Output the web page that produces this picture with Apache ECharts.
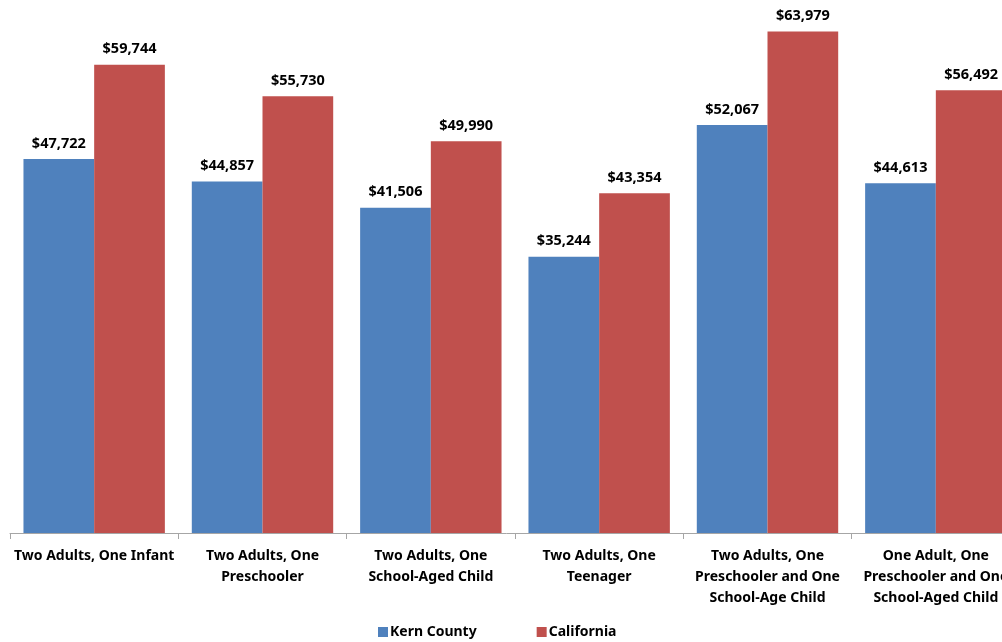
<!DOCTYPE html>
<html><head><meta charset="utf-8">
<script src="https://cdn.jsdelivr.net/npm/echarts@6/dist/echarts.min.js"></script>
<style>html,body{margin:0;padding:0;background:#fff}#c{width:1002px;height:642px}</style>
</head><body><div id="c"></div>
<script>
const categories = ["Two Adults, One Infant","Two Adults, One\nPreschooler","Two Adults, One\nSchool-Aged Child","Two Adults, One\nTeenager","Two Adults, One\nPreschooler and One\nSchool-Age Child","One Adult, One\nPreschooler and One\nSchool-Aged Child"];
const kern = [47722,44857,41506,35244,52067,44613];
const california = [59744,55730,49990,43354,63979,56492];
const seriesNames = ["Kern County","California"];

const chart = echarts.init(document.getElementById('c'));
const fmt = p => '$' + p.value.toLocaleString('en-US');
const lbl = {show:true,position:'top',distance:8,formatter:fmt,color:'#000',fontWeight:'bold',fontSize:14.5,fontFamily:'Noto Sans'};
chart.setOption({
  animation:false,
  grid:{left:10,top:0,width:1010,height:533,containLabel:false,outerBoundsMode:'none'},
  legend:{bottom:-2,left:373,itemWidth:10,itemHeight:10,itemGap:60,icon:'rect',
    textStyle:{fontWeight:'bold',fontSize:14,fontFamily:'Noto Sans',color:'#000',padding:[0,0,0,-3]},
    data:seriesNames},
  xAxis:{type:'category',data:categories,
    axisLine:{lineStyle:{color:'#a6a6a6',width:1}},
    axisTick:{show:true,length:6,lineStyle:{color:'#a6a6a6'}},
    axisLabel:{interval:0,color:'#000',fontWeight:'bold',fontSize:14,fontFamily:'Noto Sans',lineHeight:21,margin:13,hideOverlap:false}},
  yAxis:{type:'value',min:0,max:68000,show:false,splitLine:{show:false}},
  series:[
    {name:seriesNames[0],type:'bar',data:kern,barGap:'0%',barCategoryGap:'16%',itemStyle:{color:'#4F81BD'},label:lbl},
    {name:seriesNames[1],type:'bar',data:california,barGap:'0%',barCategoryGap:'16%',itemStyle:{color:'#C0504D'},label:lbl}
  ]
});
</script></body></html>
